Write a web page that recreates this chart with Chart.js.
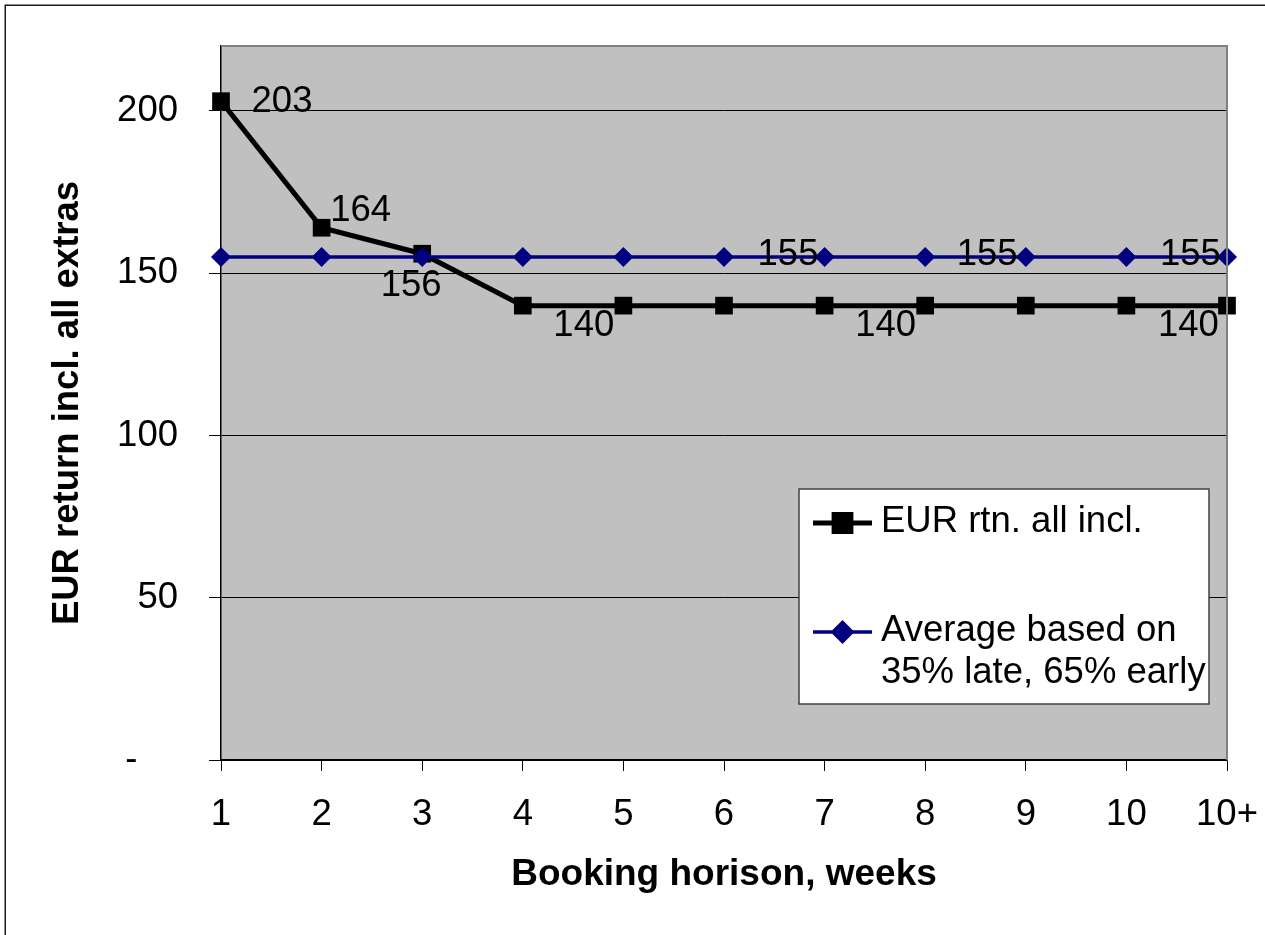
<!DOCTYPE html>
<html>
<head>
<meta charset="utf-8">
<title>Booking horison</title>
<script src="https://cdn.jsdelivr.net/npm/chart.js@4/dist/chart.umd.min.js"></script>
<style>
  html, body { margin: 0; padding: 0; background: #ffffff; }
  #wrap { position: relative; width: 1265px; height: 935px; }
</style>
</head>
<body>
<div id="wrap"><canvas id="chart" width="1265" height="935"></canvas></div>
<script>
// Booking horison (weeks) and the return per booking, EUR, all extras included
const categories = ['1', '2', '3', '4', '5', '6', '7', '8', '9', '10', '10+'];
const eurReturn = [203, 164, 156, 140, 140, 140, 140, 140, 140, 140, 140];
const averageReturn = [155, 155, 155, 155, 155, 155, 155, 155, 155, 155, 155];
const yTickValues = [0, 50, 100, 150, 200];
const zeroTickLabel = '-';

const seriesNames = ['EUR rtn. all incl.', 'Average based on\n35% late, 65% early'];

// which points carry a value label
const eurLabelPoints = [0, 1, 2, 3, 6, 9];
const averageLabelPoints = [5, 7, 9];

const FONT = "'Liberation Sans', Arial, Helvetica, sans-serif";
const TEXT_SIZE = 36.5;

// label placement relative to its point (text centre), px
const eurLabelShift = {0: [61, 1], 1: [39, -17], 2: [-11, 32], 3: [61, 20], 6: [61, 20], 9: [62, 20]};
const avgLabelShift = {5: [64, -2], 7: [62, -2], 9: [64, -2]};

const plotFrame = {
  id: 'plotFrame',
  beforeDraw(chart) {
    const {ctx, chartArea: a} = chart;
    ctx.save();
    ctx.fillStyle = '#ffffff';
    ctx.fillRect(0, 0, chart.width, chart.height);
    ctx.fillStyle = '#c0c0c0';
    ctx.fillRect(a.left, a.top, a.right - a.left, a.bottom - a.top);
    // outer chart border
    ctx.strokeStyle = '#1a1a1a';
    ctx.lineWidth = 1.5;
    ctx.strokeRect(5.25, 5.25, chart.width + 10, chart.height + 10);
    ctx.restore();
  },
  afterDraw(chart) {
    const {ctx, chartArea: a} = chart;
    ctx.save();
    ctx.strokeStyle = '#808080';
    ctx.lineWidth = 2;
    ctx.beginPath();
    ctx.moveTo(a.left, a.top);
    ctx.lineTo(a.right, a.top);
    ctx.lineTo(a.right, a.bottom);
    ctx.stroke();
    ctx.restore();
  }
};

const valueLabels = {
  id: 'valueLabels',
  afterDatasetsDraw(chart) {
    const {ctx} = chart;
    ctx.save();
    ctx.font = TEXT_SIZE + 'px ' + FONT;
    ctx.fillStyle = '#000000';
    ctx.textAlign = 'center';
    ctx.textBaseline = 'middle';
    const draw = (dsIndex, points, shifts) => {
      const meta = chart.getDatasetMeta(dsIndex);
      const values = chart.data.datasets[dsIndex].data;
      points.forEach(i => {
        const p = meta.data[i];
        const [dx, dy] = shifts[i];
        ctx.fillText(String(values[i]), p.x + dx, p.y + dy);
      });
    };
    draw(0, eurLabelPoints, eurLabelShift);
    draw(1, averageLabelPoints, avgLabelShift);
    ctx.restore();
  }
};

const boxLegend = {
  id: 'boxLegend',
  afterDraw(chart) {
    const {ctx} = chart;
    const box = {x: 799, y: 489, w: 410, h: 215};
    ctx.save();
    ctx.fillStyle = '#ffffff';
    ctx.fillRect(box.x, box.y, box.w, box.h);
    ctx.strokeStyle = '#404040';
    ctx.lineWidth = 1.5;
    ctx.strokeRect(box.x, box.y, box.w, box.h);

    const rows = [{ds: 0, y: 523}, {ds: 1, y: 632}];
    rows.forEach(r => {
      const ds = chart.data.datasets[r.ds];
      ctx.strokeStyle = ds.borderColor;
      ctx.lineWidth = ds.borderWidth;
      ctx.beginPath();
      ctx.moveTo(813, r.y);
      ctx.lineTo(872, r.y);
      ctx.stroke();
      Chart.helpers.drawPoint(ctx, {
        pointStyle: ds.pointStyle,
        radius: ds.pointRadius * 0.95,
        borderWidth: 1
      }, 842.5, r.y);
      ctx.fillStyle = ds.pointBackgroundColor;
      ctx.fill();
      ctx.fillStyle = '#000000';
      ctx.font = TEXT_SIZE + 'px ' + FONT;
      ctx.textAlign = 'left';
      ctx.textBaseline = 'middle';
      ds.label.split('\n').forEach((line, k) => {
        ctx.fillText(line, 881, r.y - 1 + k * 42);
      });
    });
    ctx.restore();
  }
};

new Chart(document.getElementById('chart'), {
  type: 'line',
  data: {
    labels: categories,
    datasets: [
      {
        label: seriesNames[0],
        data: eurReturn,
        borderColor: '#000000',
        backgroundColor: '#000000',
        borderWidth: 5,
        pointStyle: 'rect',
        pointRadius: 12.5,
        pointBackgroundColor: '#000000',
        pointBorderColor: '#000000',
        pointBorderWidth: 0,
        tension: 0,
        clip: false,
        order: 1
      },
      {
        label: seriesNames[1],
        data: averageReturn,
        borderColor: '#000080',
        backgroundColor: '#000080',
        borderWidth: 3.5,
        pointStyle: 'rectRot',
        pointRadius: 10,
        pointBackgroundColor: '#000080',
        pointBorderColor: '#000080',
        pointBorderWidth: 0,
        tension: 0,
        clip: false,
        order: 0
      }
    ]
  },
  options: {
    responsive: false,
    animation: false,
    devicePixelRatio: 1,
    layout: {padding: {left: 0, top: 46, right: 38, bottom: 0}},
    plugins: {
      legend: {display: false},
      tooltip: {enabled: false},
      title: {display: false}
    },
    scales: {
      x: {
        type: 'category',
        offset: false,
        grid: {
          display: true,
          drawOnChartArea: false,
          drawTicks: true,
          tickLength: 11,
          tickColor: '#000000',
          tickWidth: 1
        },
        border: {display: true, color: '#000000', width: 1.5},
        ticks: {
          color: '#000000',
          font: {family: FONT, size: TEXT_SIZE},
          padding: 22,
          maxRotation: 0,
          autoSkip: false
        },
        title: {
          display: true,
          text: 'Booking horison, weeks',
          color: '#000000',
          font: {family: FONT, size: 37, weight: 'bold'},
          padding: {top: 0, bottom: 38}
        },
        afterFit(scale) {
          scale.height = 175;
          scale.paddingLeft = 0;
          scale.paddingRight = 0;
        }
      },
      y: {
        min: 0,
        max: 220,
        grid: {
          color: '#000000',
          lineWidth: 1,
          drawTicks: true,
          tickLength: 12,
          tickColor: '#000000'
        },
        border: {display: true, color: '#000000', width: 1.5},
        afterBuildTicks(scale) {
          scale.ticks = yTickValues.map(v => ({value: v}));
        },
        ticks: {
          color: '#000000',
          font: {family: FONT, size: TEXT_SIZE},
          padding: 31,
          callback: v => (v === 0 ? zeroTickLabel + '    ' : String(v))
        },
        title: {
          display: true,
          text: 'EUR return incl. all extras',
          color: '#000000',
          font: {family: FONT, size: 36.5, weight: 'bold'},
          padding: {top: 46, bottom: 0}
        },
        afterFit(scale) {
          scale.width = 221;
          scale.paddingTop = 0;
          scale.paddingBottom = 0;
        }
      }
    }
  },
  plugins: [plotFrame, valueLabels, boxLegend]
});
</script>
</body>
</html>
